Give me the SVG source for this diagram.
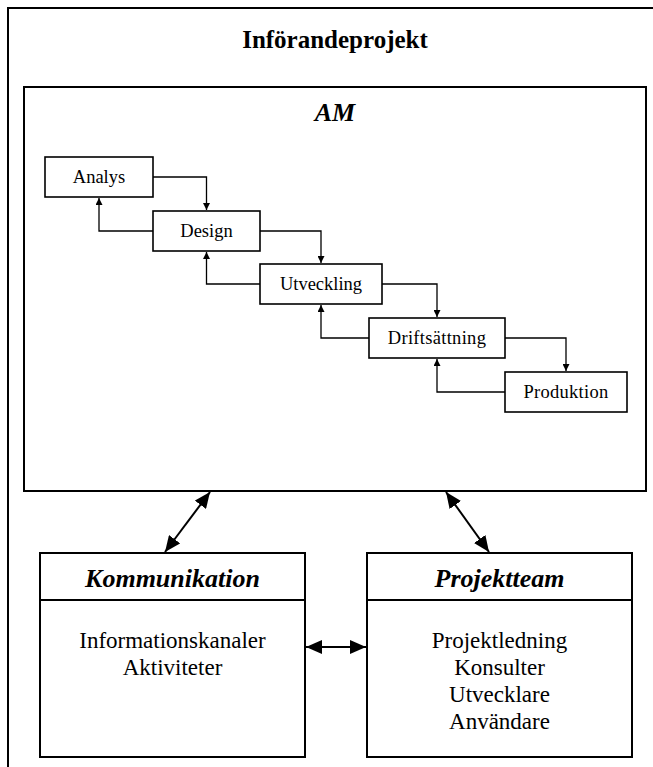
<svg xmlns="http://www.w3.org/2000/svg" width="653" height="767" viewBox="0 0 653 767">
  <style>
    .frame { fill: #fff; stroke: #000; stroke-width: 2; }
    .box { fill: #fff; stroke: #000; stroke-width: 1.6; }
    .flow { fill: none; stroke: #000; stroke-width: 1.3; }
    .link { fill: none; stroke: #000; stroke-width: 2; }
    .title { font-family: "Liberation Serif", "Times New Roman", serif; font-weight: bold; font-size: 25px; text-anchor: middle; }
    .head { font-family: "Liberation Serif", "Times New Roman", serif; font-weight: bold; font-style: italic; font-size: 26px; text-anchor: middle; }
    .step { font-family: "Liberation Serif", "Times New Roman", serif; font-size: 18.5px; text-anchor: middle; }
    .body { font-family: "Liberation Serif", "Times New Roman", serif; font-size: 23px; text-anchor: middle; }
  </style>
  <defs>
    <marker id="small" viewBox="0 0 10 10" refX="10" refY="5" markerWidth="7" markerHeight="7" markerUnits="userSpaceOnUse" orient="auto">
      <path d="M0,0 L10,5 L0,10 z" fill="#000"/>
    </marker>
    <marker id="big" viewBox="0 0 10 10" refX="10" refY="5" markerWidth="16" markerHeight="14" markerUnits="userSpaceOnUse" orient="auto-start-reverse" preserveAspectRatio="none">
      <path d="M0,0 L10,5 L0,10 z" fill="#000"/>
    </marker>
  </defs>

  <rect width="653" height="767" fill="#fff"/>

  <!-- outer project frame -->
  <g id="inforandeprojekt">
    <rect class="frame" x="8" y="8" width="660" height="780"/>
    <text class="title" x="335" y="48">Införandeprojekt</text>
  </g>

  <!-- AM container -->
  <g id="am">
    <rect class="frame" x="24" y="87" width="622" height="404"/>
    <text class="head" x="335" y="121" font-size="25">AM</text>
  </g>

  <!-- process steps -->
  <g id="analys">
    <rect class="box" x="45" y="157" width="108" height="40"/>
    <text class="step" x="99" y="183">Analys</text>
  </g>
  <g id="design">
    <rect class="box" x="153" y="211" width="107" height="40"/>
    <text class="step" x="206.5" y="237">Design</text>
  </g>
  <g id="utveckling">
    <rect class="box" x="260" y="264" width="122" height="40"/>
    <text class="step" x="321" y="290">Utveckling</text>
  </g>
  <g id="driftsattning">
    <rect class="box" x="369" y="318" width="136" height="40"/>
    <text class="step" x="437" y="344" letter-spacing="0.3">Driftsättning</text>
  </g>
  <g id="produktion">
    <rect class="box" x="505" y="372" width="122" height="40"/>
    <text class="step" x="566" y="398" letter-spacing="0.3">Produktion</text>
  </g>

  <!-- lower boxes -->
  <g id="kommunikation">
    <rect class="frame" x="40" y="553" width="265" height="204"/>
    <line class="link" x1="40" y1="600" x2="305" y2="600"/>
    <text class="head" x="172.5" y="587">Kommunikation</text>
    <text class="body" x="172.5" y="648">Informationskanaler</text>
    <text class="body" x="172.5" y="675">Aktiviteter</text>
  </g>
  <g id="projektteam">
    <rect class="frame" x="367" y="553" width="265" height="204"/>
    <line class="link" x1="367" y1="600" x2="632" y2="600"/>
    <text class="head" x="499.5" y="587">Projektteam</text>
    <text class="body" x="499.5" y="648">Projektledning</text>
    <text class="body" x="499.5" y="675">Konsulter</text>
    <text class="body" x="499.5" y="702">Utvecklare</text>
    <text class="body" x="499.5" y="729">Användare</text>
  </g>

  <!-- connectors -->
  <g id="connectors">
    <!-- forward flow -->
    <path class="flow" d="M153,177 H206.5 V210" marker-end="url(#small)"/>
    <path class="flow" d="M260,231 H321 V263" marker-end="url(#small)"/>
    <path class="flow" d="M382,284 H437 V317" marker-end="url(#small)"/>
    <path class="flow" d="M505,338 H566 V371" marker-end="url(#small)"/>
    <!-- feedback flow -->
    <path class="flow" d="M153,231 H99 V198" marker-end="url(#small)"/>
    <path class="flow" d="M260,284 H206.5 V252" marker-end="url(#small)"/>
    <path class="flow" d="M369,338 H321 V305" marker-end="url(#small)"/>
    <path class="flow" d="M505,392 H437 V359" marker-end="url(#small)"/>
    <!-- links between containers -->
    <line class="link" x1="210" y1="492" x2="165" y2="552" marker-start="url(#big)" marker-end="url(#big)"/>
    <line class="link" x1="446" y1="492" x2="489" y2="552" marker-start="url(#big)" marker-end="url(#big)"/>
    <line class="link" x1="306" y1="647" x2="366" y2="647" marker-start="url(#big)" marker-end="url(#big)"/>
  </g>
</svg>
